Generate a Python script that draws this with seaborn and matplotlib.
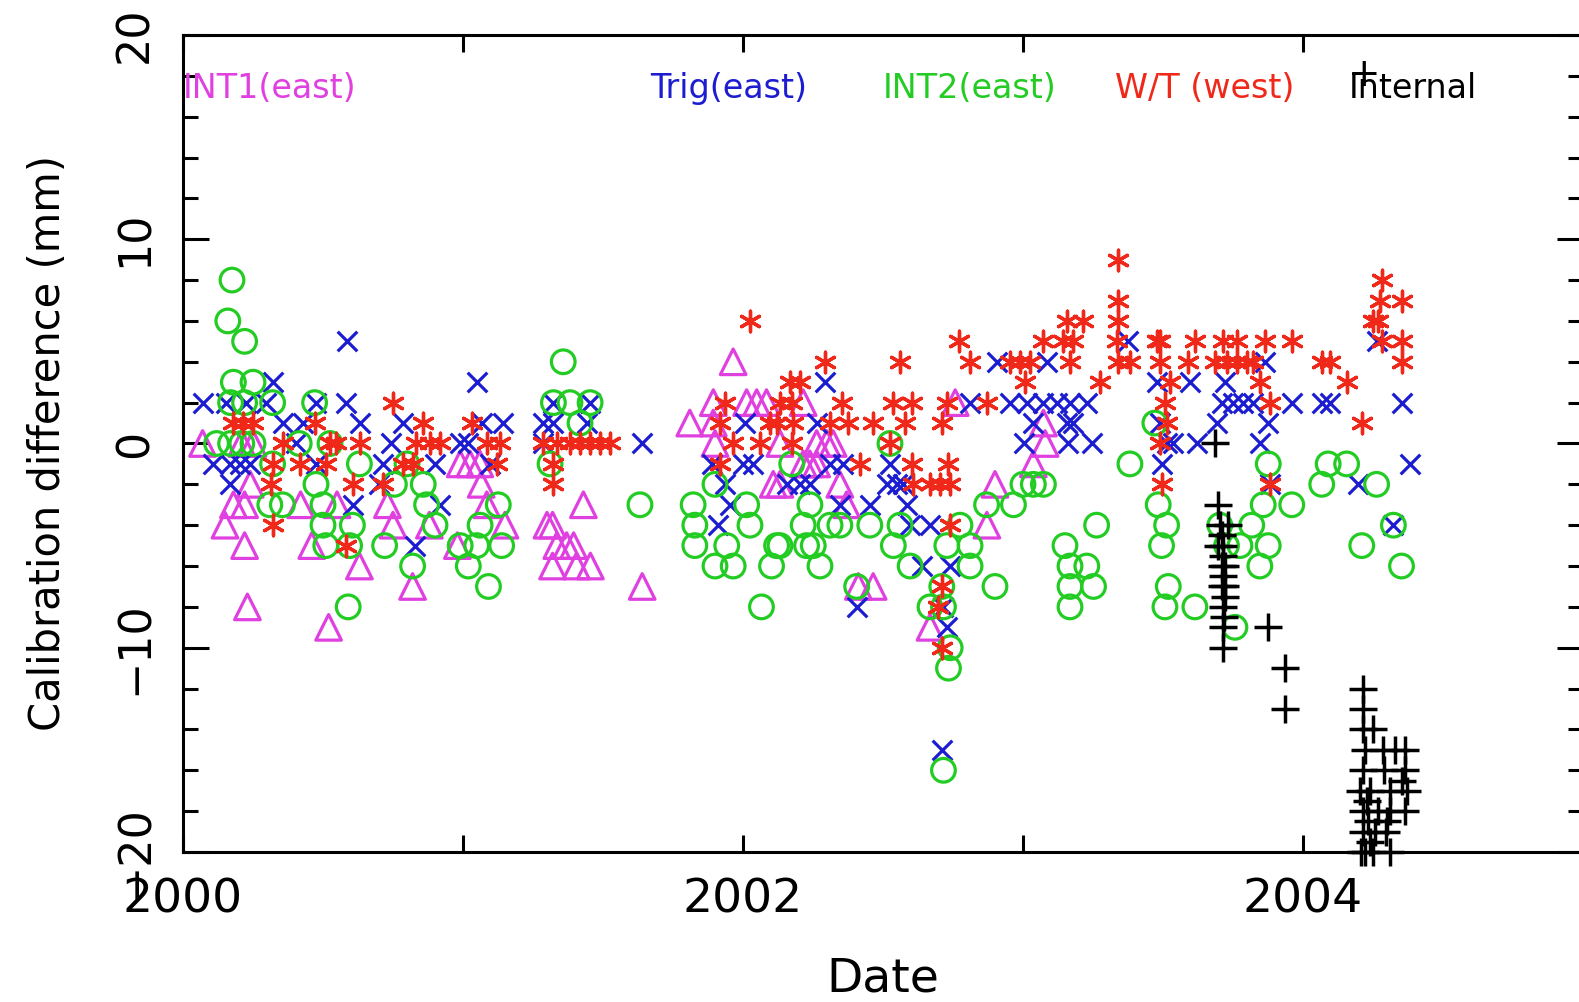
"""Calibration difference against date for the five calibration sources."""

import matplotlib
matplotlib.use("Agg")
import matplotlib.pyplot as plt
import seaborn as sns
from matplotlib.ticker import MultipleLocator

# INT1 (east), open triangles
int1_date = [2000.07, 2000.21, 2000.25, 2000.24, 2000.18, 2000.22, 2000.42, 2000.55, 2000.73,
             2000.15, 2000.75, 2000.22, 2000.46, 2000.63, 2000.82, 2000.23, 2000.52,
             2000.99, 2001.025, 2001.06, 2001.065, 2001.085, 2001.43, 2000.88, 2001.15, 2001.30,
             2001.32, 2000.98, 2001.335, 2001.37, 2001.395, 2001.32, 2001.405, 2001.455, 2001.64,
             2001.965, 2001.894, 2002.013, 2002.049, 2002.084, 2002.215, 2001.81, 2001.894, 2001.90,
             2002.132, 2002.263, 2002.299, 2002.322, 2002.215, 2002.239, 2002.263, 2002.108,
             2002.132, 2002.346, 2002.37, 2002.412, 2002.465,
             2002.758, 2003.073, 2003.079, 2003.037, 2002.90, 2002.871, 2002.668]
int1_val = [0, 0, 0, -2, -3, -3, -3, -3, -3,
            -4, -4, -5, -5, -6, -7, -8, -9,
            -1, -1, -1, -2, -3, -3, -4, -4, -4,
            -4, -5, -5, -5, -5, -6, -6, -6, -7,
            4, 2, 2, 2, 2, 2, 1, 1, 0,
            0, 0, 0, 0, -1, -1, -1, -2,
            -2, -2, -3, -7, -7,
            2, 1, 0, -1, -2, -4, -9]

# Trig (east), crosses
trig_date = [2000.586, 2000.321, 2000.071, 2000.155, 2000.226, 2000.298, 2000.476, 2000.583,
             2000.357, 2000.429, 2000.631, 2000.786, 2000.405, 2000.744, 2000.107, 2000.167,
             2000.202, 2000.238, 2000.476, 2000.714, 2000.167, 2000.70, 2000.607, 2000.827,
             2001.049, 2001.323, 2001.454, 2001.067, 2001.144, 2001.287, 2001.323, 2001.442,
             2000.99, 2001.019, 2001.287, 2001.64, 2000.90, 2001.097, 2000.918,
             2002.293, 2002.007, 2002.263, 2001.888, 2002.001, 2002.037, 2002.311, 2002.358,
             2001.936, 2002.156, 2002.203, 2002.239, 2001.953, 2002.346, 2002.453, 2001.912,
             2002.406,
             2002.906, 2003.085, 2002.811, 2002.954, 2003.014, 2003.073, 2003.121, 2003.168,
             2003.228, 2003.037, 2003.156, 2003.18, 2003.002, 2003.162, 2003.246, 2002.525,
             2002.514, 2002.549, 2002.573, 2002.585, 2002.597, 2002.668, 2002.639, 2002.74,
             2002.716, 2002.728, 2002.71,
             2003.376, 2004.263, 2003.864, 2003.477, 2003.596, 2003.721, 2003.71, 2003.751,
             2003.787, 2003.823, 2003.96, 2004.067, 2004.096, 2004.352, 2003.489, 2003.692,
             2003.876, 2003.513, 2003.537, 2003.62, 2003.846, 2003.495, 2004.382, 2003.882,
             2004.198, 2004.323]
trig_val = [5, 3, 2, 2, 2, 2, 2, 2,
            1, 1, 1, 1, 0, 0, -1, -1,
            -1, -1, -1, -1, -2, -2, -3, -5,
            3, 2, 2, 1, 1, 1, 1, 1,
            0, 0, 0, 0, -1, -1, -3,
            3, 1, 1, -1, -1, -1, -1, -1,
            -2, -2, -2, -2, -3, -3, -3, -4,
            -8,
            4, 4, 2, 2, 2, 2, 2, 2,
            2, 1, 1, 1, 0, 0, 0, -1,
            -2, -2, -2, -3, -4, -4, -6, -6,
            -8, -9, -15,
            5, 5, 4, 3, 3, 3, 2, 2,
            2, 2, 2, 2, 2, 2, 1, 1,
            1, 0, 0, 0, 0, -1, -1, -2,
            -2, -4]

# INT2 (east), open circles
int2_date = [2000.175, 2000.16, 2000.22, 2000.18, 2000.25, 2000.17, 2000.22, 2000.32, 2000.47,
             2000.12, 2000.17, 2000.21, 2000.25, 2000.415, 2000.525, 2000.32, 2000.63, 2000.80,
             2000.475, 2000.755, 2000.31, 2000.355, 2000.50, 2000.50, 2000.605, 2000.51,
             2000.595, 2000.72, 2000.82, 2000.59,
             2001.358, 2001.323, 2001.382, 2001.454, 2001.418, 2001.311, 2000.858, 2000.87,
             2001.126, 2001.632, 2000.90, 2001.061, 2000.99, 2001.049, 2001.138, 2001.019,
             2001.091,
             2002.174, 2001.90, 2001.822, 2002.013, 2002.239, 2001.828, 2002.025, 2002.215,
             2002.311, 2002.346, 2002.453, 2001.828, 2001.942, 2002.12, 2002.132, 2002.227,
             2002.251, 2001.90, 2001.965, 2002.102, 2002.275, 2002.406, 2002.066,
             2002.525, 2003.0, 2003.037, 2003.073, 2002.87, 2002.966, 2002.561, 2002.775,
             2003.263, 2002.537, 2002.728, 2002.811, 2003.15, 2002.597, 2002.811, 2003.168,
             2003.228, 2002.71, 2002.90, 2003.168, 2003.252, 2002.668, 2002.716, 2003.168,
             2002.74, 2002.734, 2002.716,
             2003.471, 2003.382, 2003.876, 2004.09, 2004.156, 2004.067, 2004.263, 2003.483,
             2003.858, 2003.96, 2003.513, 2003.703, 2003.817, 2004.323, 2003.495, 2003.727,
             2003.775, 2003.876, 2004.21, 2003.846, 2004.352, 2003.519, 2003.507, 2003.614,
             2003.757]
int2_val = [8, 6, 5, 3, 3, 2, 2, 2, 2,
            0, 0, 0, 0, 0, 0, -1, -1, -1,
            -2, -2, -3, -3, -3, -4, -4, -5,
            -5, -5, -6, -8,
            4, 2, 2, 2, 1, -1, -2, -3,
            -3, -3, -4, -4, -5, -5, -5, -6,
            -7,
            -1, -2, -3, -3, -3, -4, -4, -4,
            -4, -4, -4, -5, -5, -5, -5, -5,
            -5, -6, -6, -6, -6, -7, -8,
            0, -2, -2, -2, -3, -3, -4, -4,
            -4, -5, -5, -5, -5, -6, -6, -6,
            -6, -7, -7, -7, -7, -8, -8, -8,
            -10, -11, -16,
            1, -1, -1, -1, -1, -2, -2, -3,
            -3, -3, -4, -4, -4, -4, -5, -5,
            -5, -5, -5, -6, -6, -7, -8, -8,
            -9]

# W/T (west), asterisks
wt_date = [2000.75, 2000.18, 2000.214, 2000.25, 2000.47, 2000.857, 2000.357, 2000.524, 2000.548,
           2000.631, 2000.833, 2000.321, 2000.417, 2000.512, 2000.786, 2000.821, 2000.315,
           2000.607, 2000.714, 2000.321, 2000.583,
           2001.031, 2000.882, 2000.918, 2001.085, 2001.132, 2001.287, 2001.335, 2001.382,
           2001.418, 2001.454, 2001.49, 2001.525, 2001.12, 2001.323, 2001.323,
           2002.025, 2002.293, 2002.168, 2002.203, 2001.936, 2002.132, 2002.174, 2002.352,
           2001.918, 2002.096, 2002.12, 2002.18, 2002.311, 2002.376, 2002.465, 2001.965,
           2002.06, 2002.174, 2001.918, 2002.418,
           2003.156, 2003.216, 2002.77, 2003.073, 2003.144, 2003.18, 2002.561, 2002.811,
           2002.954, 2002.99, 2003.025, 2003.168, 2003.008, 2003.275, 2002.537, 2002.603,
           2002.728, 2002.871, 2002.579, 2002.71, 2002.525, 2002.603, 2002.734, 2002.609,
           2002.668, 2002.704, 2002.74, 2002.74, 2002.71, 2002.698, 2002.71,
           2003.34, 2004.281, 2003.34, 2004.275, 2004.352, 2003.34, 2004.25, 2004.269,
           2003.335, 2003.477, 2003.489, 2003.614, 2003.715, 2003.763, 2003.864, 2003.96,
           2004.281, 2004.352, 2003.34, 2003.382, 2003.489, 2003.59, 2003.686, 2003.727,
           2003.763, 2003.799, 2003.823, 2004.067, 2004.096, 2004.352, 2003.525, 2003.846,
           2004.156, 2003.507, 2003.882, 2003.513, 2004.21, 2003.489, 2003.495, 2003.882]
wt_val = [2, 1, 1, 1, 1, 1, 0, 0, 0,
          0, 0, -1, -1, -1, -1, -1, -2,
          -2, -2, -4, -5,
          1, 0, 0, 0, 0, 0, 0, 0,
          0, 0, 0, 0, -1, -1, -2,
          6, 4, 3, 3, 2, 2, 2, 2,
          1, 1, 1, 1, 1, 1, 1, 0,
          0, 0, -1, -1,
          6, 6, 5, 5, 5, 5, 4, 4,
          4, 4, 4, 4, 3, 3, 2, 2,
          2, 2, 1, 1, 0, -1, -1, -2,
          -2, -2, -2, -4, -7, -8, -10,
          9, 8, 7, 7, 7, 6, 6, 6,
          5, 5, 5, 5, 5, 5, 5, 5,
          5, 5, 4, 4, 4, 4, 4, 4,
          4, 4, 4, 4, 4, 4, 3, 3,
          3, 2, 2, 1, 1, 0, -2, -2]

# Internal, plus signs
internal_date = [2003.686,
                 2003.698, 2003.704, 2003.734, 2003.698, 2003.716, 2003.71, 2003.722, 2003.71,
                 2003.722, 2003.716, 2003.716, 2003.716, 2003.71, 2003.716, 2003.713, 2003.72,
                 2003.718,
                 2003.876, 2003.936, 2003.936,
                 2004.215, 2004.215, 2004.215, 2004.251, 2004.221, 2004.286, 2004.328, 2004.364,
                 2004.215, 2004.29, 2004.364, 2004.203, 2004.239, 2004.31, 2004.37, 2004.215,
                 2004.269, 2004.31, 2004.364, 2004.215, 2004.257, 2004.298, 2004.209, 2004.221,
                 2004.251, 2004.31, 2004.228, 2004.233, 2004.24, 2004.30, 2004.355]
internal_val = [0,
                -3, -4, -4, -5, -5, -6, -6, -7,
                -7, -8, -9, -10, -4.5, -5.5, -6.5, -7.5,
                -8.5,
                -9, -11, -13,
                -12, -13, -14, -14, -15, -15, -15, -15,
                -16, -16, -16, -17, -17, -17, -17, -18,
                -18, -18, -18, -19, -19, -19, -20, -20,
                -20, -20, -17.5, -18.5, -19.5, -18.5, -16.5]

series_names = ["INT1(east)", "Trig(east)", "INT2(east)", "W/T (west)", "Internal"]
series_colors = ["#e040e0", "#1c1cd0", "#22cc22", "#f0281a", "#000000"]
label_x = [0.0, 0.3336, 0.5, 0.6657, 0.833]

year_ticks = [2000, 2001, 2002, 2003, 2004, 2005]
year_labels = ["2000", "", "2002", "", "2004", ""]
mm_ticks = [-20, -10, 0, 10, 20]
mm_labels = ["\u221220", "\u221210", "0", "10", "20"]


def draw_series(ax, dates, vals, marker, color, size, open_marker, lw, z, clip=True):
    kw = dict(x=dates, y=vals, ax=ax, marker=marker, s=size, linewidth=lw,
              legend=False, zorder=z, clip_on=clip)
    if open_marker:
        kw.update(color=color, facecolor="none", edgecolor=color)
    else:
        kw.update(color=color)
    sns.scatterplot(**kw)


def main() -> None:
    sns.set_style("ticks")
    plt.rcParams["font.family"] = ["DejaVu Sans"]
    plt.rcParams["text.color"] = "black"
    plt.rcParams["axes.labelcolor"] = "black"
    plt.rcParams["xtick.color"] = "black"
    plt.rcParams["ytick.color"] = "black"

    fig = plt.figure(figsize=(15.79, 10.02), dpi=100)
    ax = fig.add_axes([0.1159, 0.1497, 0.8866, 0.8154])

    draw_series(ax, int1_date, int1_val, "^", series_colors[0], 340, True, 2.3, 3.0)
    draw_series(ax, trig_date, trig_val, "x", series_colors[1], 200, False, 2.3, 3.1)
    draw_series(ax, int2_date, int2_val, "o", series_colors[2], 290, True, 2.3, 3.2)
    draw_series(ax, wt_date, wt_val, (6, 2, 0), series_colors[3], 220, False, 2.4, 3.3)
    draw_series(ax, internal_date, internal_val, "+", series_colors[4], 400, False, 2.5, 3.4,
                clip=False)

    ax.set_xlim(2000, 2005)
    ax.set_ylim(-20, 20)
    ax.set_xticks(year_ticks)
    ax.set_xticklabels(year_labels)
    ax.set_yticks(mm_ticks)
    ax.set_yticklabels(mm_labels)
    ax.yaxis.set_minor_locator(MultipleLocator(2))

    ax.tick_params(axis="both", which="both", direction="in", top=True, right=True,
                   width=2.2, color="black", labelcolor="black")
    ax.tick_params(axis="x", which="major", length=12, pad=18, labelsize=34)
    ax.tick_params(axis="y", which="major", length=19, pad=19, labelsize=32, labelrotation=90)
    ax.tick_params(axis="y", which="minor", length=11)
    for lab in ax.get_yticklabels():
        lab.set_verticalalignment("center")

    for side in ax.spines.values():
        side.set_linewidth(2.2)
        side.set_color("black")

    ax.set_xlabel("Date", fontsize=34, color="black")
    ax.xaxis.label.set_verticalalignment("center")
    ax.xaxis.set_label_coords(0.5, -0.1555)
    ax.set_ylabel("Calibration difference (mm)", fontsize=30, color="black")
    ax.yaxis.label.set_verticalalignment("center")
    ax.yaxis.set_label_coords(-0.0964, 0.5)

    for name, color, xpos in zip(series_names, series_colors, label_x):
        ax.text(xpos, 0.935, name, transform=ax.transAxes, color=color, fontsize=24,
                ha="left", va="center", zorder=5)
    ax.text(0.8436, 0.951, "+", transform=ax.transAxes, color="black", fontsize=28,
            ha="center", va="center", zorder=5)

    fig.savefig("out.png", dpi=100)
    plt.close(fig)


if __name__ == "__main__":
    main()
